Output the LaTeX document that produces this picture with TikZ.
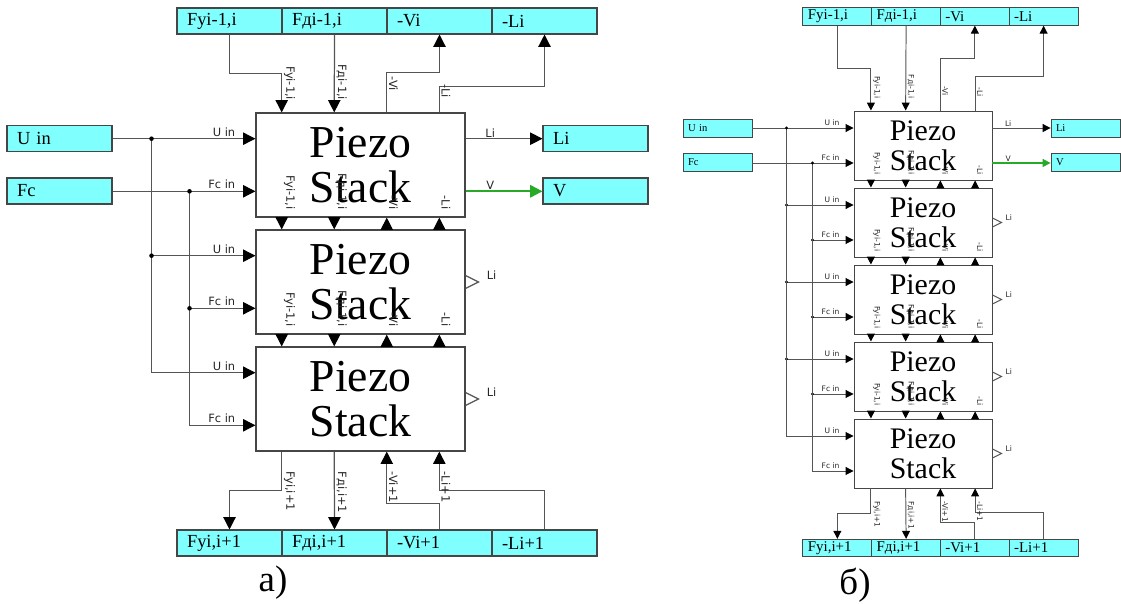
\documentclass[tikz,border=0pt]{standalone}
\usepackage{fontspec}
\setmainfont{Liberation Serif}
\newfontfamily\lblfont{DejaVu Sans}
\usetikzlibrary{arrows.meta, calc}
\definecolor{portcyan}{RGB}{128,255,255}
\definecolor{framegray}{RGB}{70,70,70}
\definecolor{wiregray}{RGB}{85,85,85}
\definecolor{wiregreen}{RGB}{40,170,40}

\begin{document}
\begin{tikzpicture}[x=0.02cm, y=-0.02cm,
    stack/.style={rectangle, draw=framegray, fill=white, inner sep=0pt, align=center},
    stackA/.style={stack, line width=0.7pt, minimum width=4.18cm, minimum height=2.08cm,
                   font=\fontsize{26}{25.5}\selectfont},
    stackB/.style={stack, line width=0.55pt, minimum width=2.76cm, minimum height=1.38cm,
                   font=\fontsize{17}{17}\selectfont},
    port/.style={rectangle, draw=framegray, fill=portcyan, inner ysep=0pt, align=left},
    portA/.style={port, line width=0.6pt, inner xsep=0.2cm, text width=1.7cm, minimum height=0.52cm,
                  font=\fontsize{10.5}{12}\selectfont},
    portB/.style={port, line width=0.5pt, inner xsep=0.1cm, text width=1.18cm, minimum height=0.35cm,
                  font=\fontsize{8.5}{10}\selectfont},
    ioB/.style={portB, minimum height=0.36cm, font=\fontsize{6}{7}\selectfont},
    wireA/.style={draw=wiregray, line width=0.7pt},
    wireB/.style={draw=wiregray, line width=0.55pt},
    arrA/.style={wireA, -{Triangle[length=7pt, width=7pt, color=black]}},
    arrB/.style={wireB, -{Triangle[length=4.5pt, width=4.5pt, color=black]}},
    garrA/.style={draw=wiregreen, line width=1.2pt, -{Triangle[length=7pt, width=7pt]}},
    garrB/.style={draw=wiregreen, line width=0.9pt, -{Triangle[length=4.5pt, width=4.5pt]}},
    lblA/.style={font=\lblfont\fontsize{6.5}{7}\selectfont, inner sep=0.5pt, text=black!85},
    lblB/.style={font=\lblfont\fontsize{4.3}{5}\selectfont, inner sep=0.4pt, text=black!85},
    vlblA/.style={lblA, rotate=-90},
    vlblB/.style={lblB, rotate=-90},
    caption/.style={font=\fontsize{21}{21}\selectfont}
]
\useasboundingbox (0,0) rectangle (1121,604);

% ---------- a) ----------
\foreach \k/\up/\dn in {1/{Fyi-1,i}/{Fyi,i+1}, 2/{Fді-1,i}/{Fді,i+1}, 3/{-Vi}/{-Vi+1}, 4/{-Li}/{-Li+1}} {
  \node[portA] (ta\k) at (124.5+105*\k, 21) {\up};
  \node[portA] (ba\k) at (124.5+105*\k, 543) {\dn};
}
\foreach \i in {1,2,3} {
  \node[stackA] (a\i) at (360.5, 48+117*\i) {Piezo\\Stack};
  \foreach \c/\f in {1/.125, 2/.375, 3/.625, 4/.875} {
    \coordinate (a\i-t\c) at ($(a\i.north west)!\f!(a\i.north east)$);
    \coordinate (a\i-s\c) at ($(a\i.south west)!\f!(a\i.south east)$);
  }
  \coordinate (a\i-u) at ($(a\i.north west)!.25!(a\i.south west)$);
  \coordinate (a\i-f) at ($(a\i.north west)!.75!(a\i.south west)$);
  \node[lblA, anchor=south east] at ($(a\i-u)+(-19,-1)$) {U in};
  \node[lblA, anchor=south east] at ($(a\i-f)+(-19,-1)$) {Fc in};
}
\node[portA] (uA) at (59.5,138.5) {U in};
\node[portA] (fA) at (59.5,191) {Fc};
\node[portA] (liA) at (595.5,138.5) {Li};
\node[portA] (vA) at (595.5,191) {V};

\draw[arrA] (ta1.south) -- ++(0,39) -| (a1-t1);
\draw[arrA] (ta2.south) -- (a1-t2);
\draw[arrA] (a1-t3) -- ++(0,-40) -| (ta3.south);
\draw[arrA] (a1-t4) -- ++(0,-26) -| (ta4.south);
\foreach \c/\txt/\off in {1/{Fyi-1,i}/11, 2/{Fді-1,i}/11, 3/{-Vi}/20, 4/{-Li}/13}
  \node[vlblA, anchor=south east] at ($(a1-t\c)+(1,-\off)$) {\txt};

\foreach \i/\j in {1/2, 2/3} {
  \draw[arrA] (a\i-s1) -- (a\j-t1);
  \draw[arrA] (a\i-s2) -- (a\j-t2);
  \draw[arrA] (a\j-t3) -- (a\i-s3);
  \draw[arrA] (a\j-t4) -- (a\i-s4);
  \foreach \c/\txt in {1/{Fyi-1,i}, 2/{Fді-1,i}, 3/{-Vi}, 4/{-Li}}
    \node[vlblA, anchor=south east] at ($(a\i-s\c)+(1,-7)$) {\txt};
  \draw[wireA] ($(a\j.east)+(0,-6.5)$) -- ++(13,6.5) -- ++(-13,6.5);
  \node[lblA, anchor=west] at ($(a\j.east)+(20,-7)$) {Li};
}

\draw[arrA] (a3-s1) -- ++(0,39) -| (ba1.north);
\draw[arrA] (a3-s2) -- (ba2.north);
\draw[arrA] (ba3.north) -- ++(0,-26) -| (a3-s3);
\draw[arrA] (ba4.north) -- ++(0,-39) -| (a3-s4);
\foreach \c/\txt in {1/{Fyi,i+1}, 2/{Fді,i+1}, 3/{-Vi+1}, 4/{-Li+1}}
  \node[vlblA, anchor=south west] at ($(a3-s\c)+(1,19)$) {\txt};

\coordinate (juA) at ($(uA.east |- a1-u)+(39,0)$);
\coordinate (jfA) at ($(fA.east |- a1-f)+(77,0)$);
\draw[arrA] (uA.east |- a1-u) -- (a1-u);
\draw[arrA] (fA.east |- a1-f) -- (a1-f);
\draw[arrA] (juA |- a2-u) -- (a2-u);
\draw[arrA] (jfA |- a2-f) -- (a2-f);
\draw[arrA] (juA) |- (a3-u);
\draw[arrA] (jfA) |- (a3-f);
\foreach \p in {juA, jfA} \fill (\p) circle (1.3pt);
\fill (juA |- a2-u) circle (1.3pt);
\fill (jfA |- a2-f) circle (1.3pt);

\draw[arrA] (a1-u -| a1.east) -- node[lblA, above, pos=.32] {Li} (a1-u -| liA.west);
\draw[garrA] (a1-f -| a1.east) -- node[lblA, above, pos=.32] {V} (a1-f -| vA.west);

\node[caption] (capA) at (273,583) {а)};

% ---------- б) ----------
\foreach \k/\up/\dn in {1/{Fyi-1,i}/{Fyi,i+1}, 2/{Fді-1,i}/{Fді,i+1}, 3/{-Vi}/{-Vi+1}, 4/{-Li}/{-Li+1}} {
  \node[portB] (tb\k) at (768.6+68.75*\k, 16.5) {\up};
  \node[portB] (bb\k) at (768.6+68.75*\k, 548) {\dn};
}
\foreach \i in {1,...,5} {
  \node[stackB] (b\i) at (923, 68.5+77*\i) {Piezo\\Stack};
  \foreach \c/\f in {1/.125, 2/.375, 3/.625, 4/.875} {
    \coordinate (b\i-t\c) at ($(b\i.north west)!\f!(b\i.north east)$);
    \coordinate (b\i-s\c) at ($(b\i.south west)!\f!(b\i.south east)$);
  }
  \coordinate (b\i-u) at ($(b\i.north west)!.25!(b\i.south west)$);
  \coordinate (b\i-f) at ($(b\i.north west)!.75!(b\i.south west)$);
  \node[lblB, anchor=south east] at ($(b\i-u)+(-13,-1)$) {U in};
  \node[lblB, anchor=south east] at ($(b\i-f)+(-13,-1)$) {Fc in};
}
\node[ioB] (uB) at (717.5,128) {U in};
\node[ioB] (fB) at (717.5,162.5) {Fc};
\node[ioB] (liB) at (1085.5,128) {Li};
\node[ioB] (vB) at (1085.5,162.5) {V};

\draw[arrB] (tb1.south) -- ++(0,43) -| (b1-t1);
\draw[arrB] (tb2.south) -- (b1-t2);
\draw[arrB] (b1-t3) -- ++(0,-52) -| (tb3.south);
\draw[arrB] (b1-t4) -- ++(0,-34) -| (tb4.south);
\foreach \c/\txt/\off in {1/{Fyi-1,i}/11, 2/{Fді-1,i}/11, 3/{-Vi}/14, 4/{-Li}/13}
  \node[vlblB, anchor=south east] at ($(b1-t\c)+(1,-\off)$) {\txt};

\foreach \i/\j in {1/2, 2/3, 3/4, 4/5} {
  \draw[arrB] (b\i-s1) -- (b\j-t1);
  \draw[arrB] (b\i-s2) -- (b\j-t2);
  \draw[arrB] (b\j-t3) -- (b\i-s3);
  \draw[arrB] (b\j-t4) -- (b\i-s4);
  \foreach \c/\txt in {1/{Fyi-1,i}, 2/{Fді-1,i}, 3/{-Vi}, 4/{-Li}}
    \node[vlblB, anchor=south east] at ($(b\i-s\c)+(1,-5)$) {\txt};
  \draw[wireB] ($(b\j.east)+(0,-4.5)$) -- ++(9,4.5) -- ++(-9,4.5);
  \node[lblB, anchor=west] at ($(b\j.east)+(12,-5)$) {Li};
}

\draw[arrB] (b5-s1) -- ++(0,25) -| (bb1.north);
\draw[arrB] (b5-s2) -- (bb2.north);
\draw[arrB] (bb3.north) -- ++(0,-16) -| (b5-s3);
\draw[arrB] (bb4.north) -- ++(0,-26) -| (b5-s4);
\foreach \c/\txt in {1/{Fyi,i+1}, 2/{Fді,i+1}, 3/{-Vi+1}, 4/{-Li+1}}
  \node[vlblB, anchor=south west] at ($(b5-s\c)+(1,12)$) {\txt};

\coordinate (juB) at ($(uB.east |- b1-u)+(34,0)$);
\coordinate (jfB) at ($(fB.east |- b1-f)+(60,0)$);
\draw[arrB] (uB.east |- b1-u) -- (b1-u);
\draw[arrB] (fB.east |- b1-f) -- (b1-f);
\foreach \i in {2,3,4} {
  \draw[arrB] (juB |- b\i-u) -- (b\i-u);
  \draw[arrB] (jfB |- b\i-f) -- (b\i-f);
  \fill (juB |- b\i-u) circle (0.9pt);
  \fill (jfB |- b\i-f) circle (0.9pt);
}
\draw[arrB] (juB) |- (b5-u);
\draw[arrB] (jfB) |- (b5-f);
\foreach \p in {juB, jfB} \fill (\p) circle (0.9pt);

\draw[arrB] (b1-u -| b1.east) -- node[lblB, above, pos=.27] {Li} (b1-u -| liB.west);
\draw[garrB] (b1-f -| b1.east) -- node[lblB, above, pos=.27] {V} (b1-f -| vB.west);

\node[caption] (capB) at (855,585) {б)};

\end{tikzpicture}
\end{document}
